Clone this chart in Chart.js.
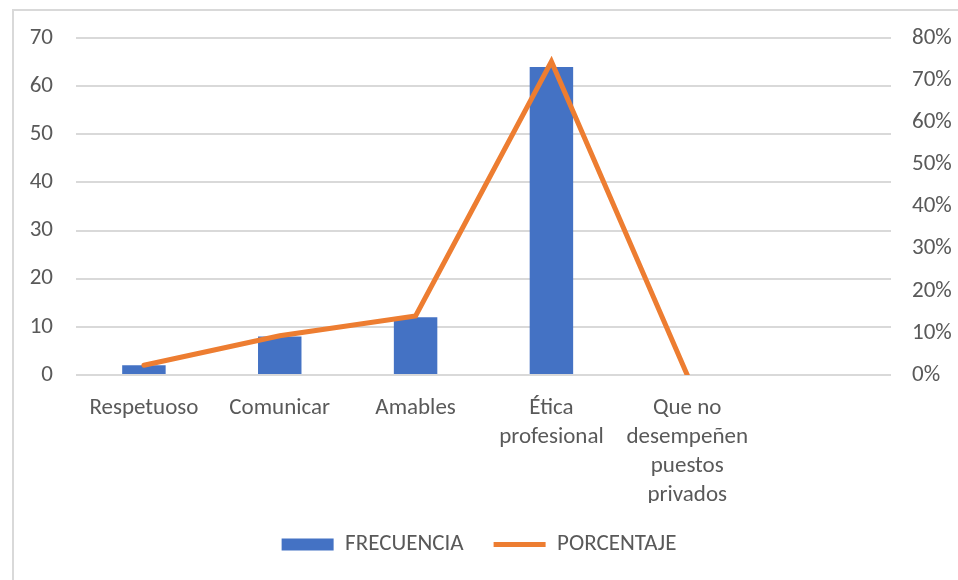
<!DOCTYPE html>
<html>
<head>
<meta charset="utf-8">
<script src="https://cdn.jsdelivr.net/npm/chart.js@4.4.0/dist/chart.umd.min.js"></script>
<style>
  html, body { margin: 0; padding: 0; background: #fff; }
  #wrap { position: relative; width: 958px; height: 580px; overflow: hidden; }
  #frame { position: absolute; left: 12px; top: 9px; width: 1000px; height: 1000px;
           border-left: 2px solid #d9d9d9; border-top: 2px solid #d9d9d9; }
  canvas { position: absolute; left: 0; top: 0; }
</style>
</head>
<body>
<div id="wrap">
  <div id="frame"></div>
  <canvas id="myChart" width="958" height="580"></canvas>
</div>
<script>
const categories = [
  "Respetuoso",
  "Comunicar",
  "Amables",
  ["Ética", "profesional"],
  ["Que no", "desempeñen", "puestos", "privados"],
  "",
];
const frecuencia = [2, 8, 12, 64, 0, null];
const porcentaje = [0.023, 0.093, 0.14, 0.744, 0];

const FONT = "Carlito, Lato, 'Open Sans', sans-serif";
const GREY = "#595959";

const myChart = new Chart(document.getElementById("myChart"), {
  type: "bar",
  data: {
    labels: categories,
    datasets: [
      {
        label: "FRECUENCIA",
        data: frecuencia,
        backgroundColor: "#4472C4",
        borderWidth: 0,
        barPercentage: 0.32,
        categoryPercentage: 1,
        yAxisID: "y",
        order: 1,
        pointStyle: "rect",
      },
      {
        type: "line",
        label: "PORCENTAJE",
        data: porcentaje,
        borderColor: "#ED7D31",
        backgroundColor: "#ED7D31",
        borderWidth: 5,
        borderCapStyle: "round",
        pointRadius: 0,
        tension: 0,
        yAxisID: "y2",
        order: 0,
        pointStyle: "line",
      },
    ],
  },
  options: {
    responsive: false,
    animation: false,
    layout: {
      padding: { top: 38, left: 0, right: 0, bottom: 14 },
    },
    plugins: {
      tooltip: { enabled: false },
      legend: {
        position: "bottom",
        reverse: true,
        labels: {
          usePointStyle: true,
          pointStyleWidth: 52,
          boxWidth: 52,
          boxHeight: 12,
          padding: 30,
          color: GREY,
          font: { family: FONT, size: 23 },
        },
      },
    },
    scales: {
      x: {
        grid: { display: false, drawTicks: false },
        border: { display: false },
        ticks: {
          color: GREY,
          maxRotation: 0,
          autoSkip: false,
          padding: 19,
          font: { family: FONT, size: 23, lineHeight: 1.26 },
        },
        afterFit: (scale) => { scale.height = 128; },
      },
      y: {
        position: "left",
        min: 0,
        max: 70,
        ticks: {
          stepSize: 10,
          color: GREY,
          padding: 23,
          font: { family: FONT, size: 23 },
        },
        grid: { color: "#d9d9d9", lineWidth: 2, drawTicks: false },
        border: { display: false },
        afterFit: (scale) => { scale.width = 76; },
      },
      y2: {
        position: "right",
        min: 0,
        max: 0.8,
        ticks: {
          stepSize: 0.1,
          color: GREY,
          padding: 21,
          font: { family: FONT, size: 23 },
          callback: (v) => Math.round(v * 100) + "%",
        },
        grid: { display: false, drawTicks: false },
        border: { display: false },
        afterFit: (scale) => { scale.width = 67; },
      },
    },
  },
});
</script>
</body>
</html>
